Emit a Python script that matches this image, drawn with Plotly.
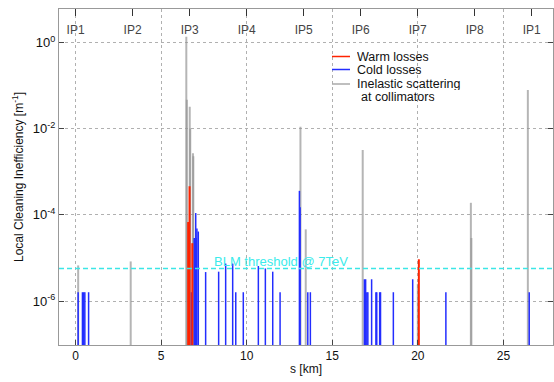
import plotly.graph_objects as go
import math

# ---------------- data ----------------
LHC_CIRC = 26.659  # km
ip_labels = ["IP1", "IP2", "IP3", "IP4", "IP5", "IP6", "IP7", "IP8", "IP1"]
ip_pos = [i * LHC_CIRC / 8 for i in range(9)]

# Inelastic scattering at collimators (grey)
coll_s = [0.15, 3.22, 6.47, 6.50, 6.67, 6.70, 6.86, 6.88, 13.14, 13.45, 16.78,
          20.00, 23.10, 23.13, 26.43]
coll_val = [6.7e-6, 8.3e-6, 1.36, 4.7e-2, 3.2e-2, 1.0e-2, 2.7e-3, 2.3e-3, 1.1e-2, 4.6e-5, 3.2e-3,
            2.5e-6, 1.9e-4, 2.9e-5, 7.9e-2]

# Cold losses (blue)
cold_s = [0.15, 0.40, 0.47, 0.54, 0.76,
          6.77, 6.93, 6.97, 7.02, 7.05, 7.09, 7.17,
          7.60, 8.36, 8.77, 9.18, 9.36, 9.80, 10.68, 11.09, 11.52, 11.95,
          13.08, 13.12, 13.57, 13.72,
          16.88, 16.95, 17.02, 17.08, 17.30, 17.55, 17.60, 17.77, 17.82, 18.57, 19.70,
          21.64, 26.51]
cold_val = [1.6e-6, 1.6e-6, 1.6e-6, 1.6e-6, 1.6e-6,
            1.6e-6, 2.9e-5, 2.9e-5, 1.1e-4, 2.9e-5, 4.8e-5, 4.1e-5,
            4.7e-6, 4.8e-6, 7.4e-6, 7.4e-6, 1.6e-6, 1.6e-6, 6.5e-6, 5.7e-6, 4.8e-6, 1.6e-6,
            3.6e-4, 1.5e-4, 1.6e-6, 1.6e-6,
            3.2e-6, 3.2e-6, 1.6e-6, 1.6e-6, 3.2e-6, 1.6e-6, 1.6e-6, 1.6e-6, 1.6e-6, 1.6e-6, 3.2e-6,
            1.6e-6, 1.6e-6]

# Warm losses (red)
warm_s = [6.58, 6.62, 6.66, 6.82, 20.06]
warm_val = [6.8e-5, 6.8e-5, 4.6e-4, 2.2e-5, 9.3e-6]

BLM_THRESHOLD = 5.7e-6
BASE = 1e-9  # bars start below the visible range

x_range = [-0.97, 27.9]
y_range_log = [-7.02, 0.775]

y_tickvals = [1, 1e-2, 1e-4, 1e-6]
y_ticktext = ["10<sup>0</sup>", "10<sup>-2</sup>", "10<sup>-4</sup>", "10<sup>-6</sup>"]
x_tickvals = [0, 5, 10, 15, 20, 25]

FONT = "Liberation Sans, Arial, Helvetica, sans-serif"

def stems(xs, ys):
    X, Y = [], []
    for x, y in zip(xs, ys):
        X += [x, x, None]
        Y += [BASE, y, None]
    return X, Y

fig = go.Figure()

gx, gy = stems(coll_s, coll_val)
fig.add_trace(go.Scatter(x=gx, y=gy, mode="lines", line=dict(color="rgba(150,150,150,0.7)", width=2),
                         showlegend=False, hoverinfo="skip"))
bx, by = stems(cold_s, cold_val)
fig.add_trace(go.Scatter(x=bx, y=by, mode="lines", line=dict(color="rgb(35,45,255)", width=1.5),
                         showlegend=False, hoverinfo="skip"))
rx, ry = stems(warm_s, warm_val)
fig.add_trace(go.Scatter(x=rx, y=ry, mode="lines", line=dict(color="rgb(255,35,0)", width=2),
                         showlegend=False, hoverinfo="skip"))
# dummy trace for top IP axis
fig.add_trace(go.Scatter(x=ip_pos, y=[1] * len(ip_pos), xaxis="x2", mode="markers",
                         marker=dict(opacity=0), showlegend=False, hoverinfo="skip"))

# BLM threshold
fig.add_shape(type="line", xref="paper", yref="y", x0=0, x1=1, y0=BLM_THRESHOLD, y1=BLM_THRESHOLD,
              line=dict(color="rgb(60,230,230)", width=1.5, dash="5px,3px"))
fig.add_annotation(x=11.98, y=math.log10(BLM_THRESHOLD), xref="x", yref="y", text="BLM threshold @ 7TeV",
                   showarrow=False, yshift=7, font=dict(family=FONT, size=13, color="rgb(60,235,235)"))

# legend built from shapes/annotations
PL, PW, PT, PH = 59, 494, 9, 336
def px2paper(px, py):
    return (px - PL) / PW, 1 - (py - PT) / PH

legend_items = [("Warm losses", "rgb(255,35,0)", 56.5), ("Cold losses", "rgb(35,45,255)", 69.5),
                ("Inelastic scattering", "rgb(170,170,170)", 84)]
for label, col, ly in legend_items:
    x0, y0 = px2paper(332, ly)
    x1, _ = px2paper(350, ly)
    fig.add_shape(type="line", xref="paper", yref="paper", x0=x0, x1=x1, y0=y0, y1=y0,
                  line=dict(color=col, width=1.5))
    tx, typ = px2paper(356, ly)
    fig.add_annotation(x=tx, y=typ, xref="paper", yref="paper", text=label, showarrow=False,
                       xanchor="left", yanchor="middle", align="left", height=12, borderpad=0,
                       font=dict(family=FONT, size=12.5, color="#111"))
tx, typ = px2paper(360, 97)
fig.add_annotation(x=tx, y=typ, xref="paper", yref="paper", text="at collimators", showarrow=False,
                   xanchor="left", yanchor="middle", align="left", height=12, borderpad=0,
                   font=dict(family=FONT, size=12.5, color="#111"))

fig.update_layout(
    width=554, height=382,
    margin=dict(l=59, r=1, t=9, b=37, autoexpand=False),
    paper_bgcolor="white", plot_bgcolor="white",
    font=dict(family=FONT, size=12, color="#111"),
    xaxis=dict(range=x_range, tickvals=x_tickvals, ticks="inside", ticklen=5, tickcolor="#444",
               showline=True, linecolor="#999", mirror=True, zeroline=False, automargin=False,
               showgrid=True, gridcolor="#b0b0b0", griddash="dot", gridwidth=1,
               title=dict(text="s [km]", font=dict(size=12), standoff=2), tickfont=dict(size=12)),
    xaxis2=dict(range=x_range, overlaying="x", side="top", tickvals=ip_pos, ticktext=ip_labels,
                ticks="inside", ticklen=7, tickcolor="#333", ticklabelposition="inside",
                ticklabelstandoff=9, automargin=False,
                showgrid=False, zeroline=False, showline=False, tickfont=dict(size=12)),
    yaxis=dict(type="log", range=y_range_log, tickvals=y_tickvals, ticktext=y_ticktext,
               ticks="inside", ticklen=5, tickcolor="#444", showline=True, linecolor="#999", mirror="ticks",
               showgrid=True, gridcolor="#b0b0b0", griddash="dot", gridwidth=1, zeroline=False,
               automargin=False,
               title=dict(text="Local Cleaning Inefficiency [m<sup>-1</sup>]", font=dict(size=12), standoff=6),
               tickfont=dict(size=13)),
)

fig.write_html("out.html", config={"displayModeBar": False},
               post_script="document.body.style.margin='0';")
